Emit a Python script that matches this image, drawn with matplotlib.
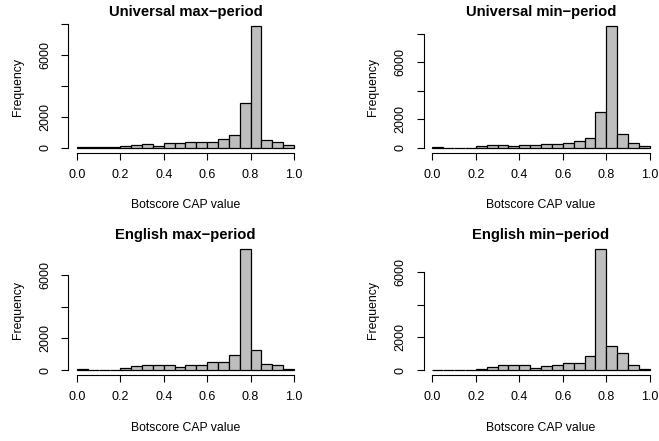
import matplotlib.pyplot as plt
import numpy as np

plt.rcParams['font.family'] = ['Liberation Sans', 'DejaVu Sans']

# histogram bins (width 0.05 from 0 to 1)
bin_edges = np.linspace(0, 1, 21)

titles = ['Universal max\u2212period', 'Universal min\u2212period',
          'English max\u2212period', 'English min\u2212period']

univ_max = [60, 20, 20, 20, 100, 200, 240, 130, 280, 280,
            350, 350, 370, 580, 840, 2870, 7890, 475, 350, 150]
univ_min = [50, 10, 10, 10, 90, 160, 160, 90, 210, 210,
            230, 260, 300, 470, 650, 2480, 8540, 980, 350, 140]
eng_max = [60, 10, 10, 10, 125, 290, 335, 335, 335, 190,
           315, 315, 520, 545, 940, 7615, 1255, 420, 315, 80]
eng_min = [40, 10, 10, 10, 80, 200, 300, 300, 325, 140,
           265, 300, 470, 470, 850, 7390, 1500, 1075, 300, 60]

counts = [univ_max, univ_min, eng_max, eng_min]

y_ticks = [0, 2000, 4000, 6000, 8000]
y_labels = {0: '0', 2000: '2000', 6000: '6000'}
x_ticks = [0.0, 0.2, 0.4, 0.6, 0.8, 1.0]

W, H = 659, 441
# plot regions in pixels: left, top, right, bottom
boxes = [(68.3, 21, 302.7, 152.6), (423.6, 21, 658.5, 152.6),
         (68.3, 244, 302.7, 375.2), (423.6, 244, 658.5, 375.2)]

fig = plt.figure(figsize=(W / 100, H / 100), dpi=100)

for i in range(4):
    l, t, r, b = boxes[i]
    ax = fig.add_axes([l / W, 1 - b / H, (r - l) / W, (b - t) / H])
    c = counts[i]
    ax.bar(bin_edges[:-1], c, width=0.05, align='edge', color='#BEBEBE',
           edgecolor='black', linewidth=0.9)
    ymax = max(c)
    ax.set_xlim(-0.04, 1.04)
    ax.set_ylim(-0.04 * ymax, 1.04 * ymax)
    ax.spines['top'].set_visible(False)
    ax.spines['right'].set_visible(False)
    ax.spines['bottom'].set_bounds(0, 1)
    yt = [v for v in y_ticks if v <= 1.04 * ymax]
    ax.spines['left'].set_bounds(0, yt[-1])
    ax.set_xticks(x_ticks)
    ax.set_xticklabels(['%.1f' % v for v in x_ticks])
    ax.set_yticks(yt)
    ax.set_yticklabels([y_labels.get(v, '') for v in yt], rotation=90, va='center')
    ax.tick_params(direction='out', length=5.2, width=0.8, labelsize=9,
                   colors='black')
    ax.tick_params(axis='x', pad=6.5)
    ax.tick_params(axis='y', pad=7)
    ax.set_title(titles[i], fontsize=10.6, fontweight='bold', pad=3.5)
    ax.set_xlabel('Botscore CAP value', fontsize=8.8, labelpad=13)
    ax.set_ylabel('Frequency', fontsize=8.8, labelpad=11)
    ax.patch.set_visible(False)

fig.savefig('out.png', dpi=100)
